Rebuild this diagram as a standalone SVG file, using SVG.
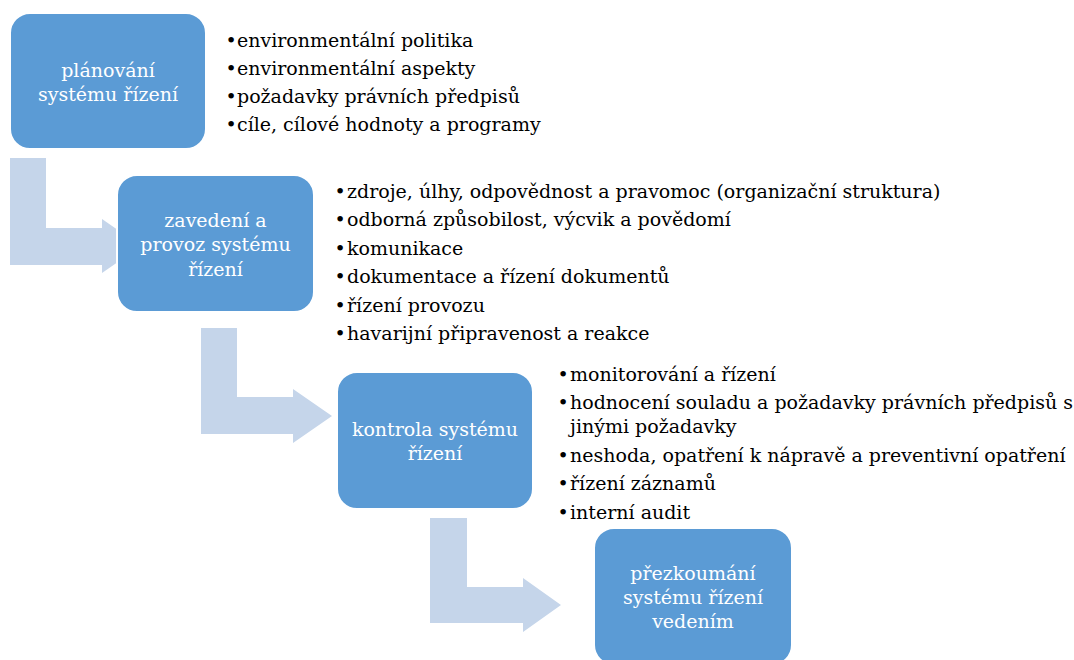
<svg xmlns="http://www.w3.org/2000/svg" width="1074" height="660" viewBox="0 0 1074 660">
<style>
.box{fill:#5B9BD5;stroke:#FFFFFF;stroke-width:2}
.arr{fill:#C5D5EA}
.bt{font-family:"DejaVu Serif",serif;font-size:19px;fill:#FFFFFF;text-anchor:middle}
.li{font-family:"DejaVu Serif",serif;font-size:19px;fill:#000000}
.bu{font-family:"DejaVu Serif",serif;font-size:19px;fill:#000000;text-anchor:middle}
</style>
<rect width="1074" height="660" fill="#FFFFFF"/>
<g id="connectors">
<path class="arr" d="M10,158 H46 V228 H102 V219 L141,246 L102,273 V265 H10 Z"/>
<path class="arr" d="M201,328 H237 V397 H293 V389 L332,416 L293,443 V434 H201 Z"/>
<path class="arr" d="M430,518 H467 V587 H523 V578 L561,605 L523,632 V623 H430 Z"/>
</g>
<g id="node1">
<rect class="box" x="10" y="13" width="196" height="136" rx="20"/>
<text class="bt" x="108" y="77">plánování</text>
<text class="bt" x="108" y="101">systému řízení</text>
</g>
<g id="list1">
<text class="bu" x="231" y="47">•</text><text class="li" x="237" y="47">environmentální politika</text>
<text class="bu" x="231" y="75">•</text><text class="li" x="237" y="75">environmentální aspekty</text>
<text class="bu" x="231" y="103">•</text><text class="li" x="237" y="103">požadavky právních předpisů</text>
<text class="bu" x="231" y="131">•</text><text class="li" x="237" y="131">cíle, cílové hodnoty a programy</text>
</g>
<g id="node2">
<rect class="box" x="117" y="175" width="197" height="137" rx="20"/>
<text class="bt" x="215.5" y="227">zavedení a</text>
<text class="bt" x="215.5" y="251">provoz systému</text>
<text class="bt" x="215.5" y="276">řízení</text>
</g>
<g id="list2">
<text class="bu" x="340" y="198">•</text><text class="li" x="347" y="198">zdroje, úlhy, odpovědnost a pravomoc (organizační struktura)</text>
<text class="bu" x="340" y="226">•</text><text class="li" x="347" y="226">odborná způsobilost, výcvik a povědomí</text>
<text class="bu" x="340" y="255">•</text><text class="li" x="347" y="255">komunikace</text>
<text class="bu" x="340" y="283">•</text><text class="li" x="347" y="283">dokumentace a řízení dokumentů</text>
<text class="bu" x="340" y="312">•</text><text class="li" x="347" y="312">řízení provozu</text>
<text class="bu" x="340" y="340">•</text><text class="li" x="347" y="340">havarijní připravenost a reakce</text>
</g>
<g id="node3">
<rect class="box" x="337" y="372" width="196" height="137" rx="20"/>
<text class="bt" x="435" y="436">kontrola systému</text>
<text class="bt" x="435" y="460">řízení</text>
</g>
<g id="list3">
<text class="bu" x="563" y="381">•</text><text class="li" x="570" y="381">monitorování a řízení</text>
<text class="bu" x="563" y="409">•</text><text class="li" x="570" y="409">hodnocení souladu a požadavky právních předpisů s</text>
<text class="li" x="570" y="433">jinými požadavky</text>
<text class="bu" x="563" y="462">•</text><text class="li" x="570" y="462">neshoda, opatření k nápravě a preventivní opatření</text>
<text class="bu" x="563" y="490">•</text><text class="li" x="570" y="490">řízení záznamů</text>
<text class="bu" x="563" y="519">•</text><text class="li" x="570" y="519">interní audit</text>
</g>
<g id="node4">
<rect class="box" x="594" y="528" width="198" height="137" rx="20"/>
<text class="bt" x="693" y="580">přezkoumání</text>
<text class="bt" x="693" y="604">systému řízení</text>
<text class="bt" x="693" y="628">vedením</text>
</g>
</svg>
